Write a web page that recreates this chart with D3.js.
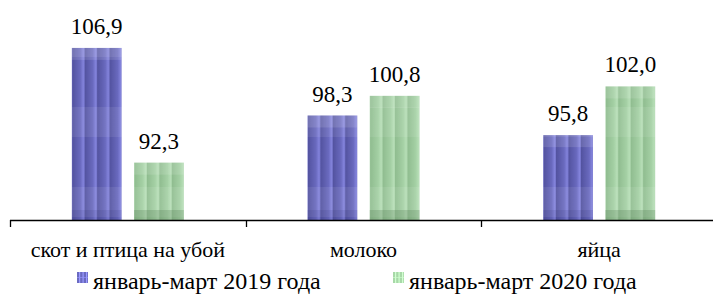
<!DOCTYPE html>
<html><head><meta charset="utf-8">
<script src="https://cdn.jsdelivr.net/npm/d3@7"></script>
<style>html,body{margin:0;padding:0;background:#fff;}svg{display:block;}</style>
</head><body><svg id="c" width="713" height="295"></svg>
<script>
const categories = ["скот и птица на убой", "молоко", "яйца"];
const seriesNames = ["январь-март 2019 года", "январь-март 2020 года"];
const values2019 = [106.9, 98.3, 95.8];
const values2020 = [92.3, 100.8, 102.0];
const valueLabels2019 = ["106,9", "98,3", "95,8"];
const valueLabels2020 = ["92,3", "100,8", "102,0"];

const svg = d3.select("#c");
const font = "Liberation Serif, Times New Roman, serif";
const baseY = 220;
const x0 = d3.scaleBand().domain(categories).range([10, 717]).padding(0);
const bw = x0.bandwidth();
const x1 = d3.scaleBand().domain(seriesNames).range([bw/2 - 56, bw/2 + 56]).paddingInner(0.2);
const y = d3.scaleLinear().domain([85, 113]).range([baseY, 0]);

const defs = svg.append("defs");
function makePattern(id, c0, c1, c2, band) {
  const g = defs.append("linearGradient").attr("id", id + "g").attr("x1", 0).attr("x2", 1).attr("y1", 0).attr("y2", 0);
  g.append("stop").attr("offset", 0).attr("stop-color", c0);
  g.append("stop").attr("offset", 0.65).attr("stop-color", c1);
  g.append("stop").attr("offset", 0.92).attr("stop-color", c2);
  g.append("stop").attr("offset", 1).attr("stop-color", c1);
  const p = defs.append("pattern").attr("id", id).attr("patternUnits", "userSpaceOnUse")
    .attr("width", 12.45).attr("height", 80).attr("y", 27);
  p.append("rect").attr("width", 12.45).attr("height", 80).attr("fill", `url(#${id}g)`);
  p.append("rect").attr("y", 0).attr("width", 12.45).attr("height", 80).attr("fill", band).attr("opacity", 0.2);
  p.append("rect").attr("y", 0).attr("width", 12.45).attr("height", 30).attr("fill", "#fff").attr("opacity", 0.08);
}
makePattern("pb", "#5f5fae", "#7c7cd6", "#a0a0ff", "#202060");
makePattern("pg", "#a2d3a2", "#bdecbd", "#d6ffd6", "#406040");

const fills = ["url(#pb)", "url(#pg)"];
const data = categories.map((c, i) => ({cat: c, vals: [
  {s: seriesNames[0], v: values2019[i], l: valueLabels2019[i], k: 0},
  {s: seriesNames[1], v: values2020[i], l: valueLabels2020[i], k: 1}]}));

const groups = svg.selectAll("g.grp").data(data).enter().append("g")
  .attr("transform", d => `translate(${x0(d.cat)},0)`);
groups.selectAll("rect.bar").data(d => d.vals).enter().append("rect").attr("class", "bar")
  .attr("x", d => x1(d.s)).attr("width", x1.bandwidth())
  .attr("y", d => y(d.v)).attr("height", d => baseY - y(d.v))
  .attr("fill", d => fills[d.k]);
// lighter top cap region of each bar
groups.selectAll("rect.top").data(d => d.vals).enter().append("rect").attr("class", "top")
  .attr("x", d => x1(d.s)).attr("width", x1.bandwidth())
  .attr("y", d => y(d.v)).attr("height", d => Math.min(baseY - y(d.v), 12))
  .attr("fill", "#fff").attr("opacity", 0.12);
// darker bottom band of each bar
groups.selectAll("rect.bot").data(d => d.vals).enter().append("rect").attr("class", "bot")
  .attr("x", d => x1(d.s)).attr("width", x1.bandwidth())
  .attr("y", baseY - 10).attr("height", 10)
  .attr("fill", d => d.k ? "#507850" : "#202060").attr("opacity", d => d.k ? 0.25 : 0.1);
groups.selectAll("text").data(d => d.vals).enter().append("text")
  .attr("x", d => x1(d.s) + x1.bandwidth()/2).attr("y", d => y(d.v) - 14)
  .attr("text-anchor", "middle").attr("font-family", font).attr("font-size", 23).attr("fill", "#000")
  .text(d => d.l);

// axis
const ax = svg.append("g").attr("transform", `translate(0,${baseY})`)
  .call(d3.axisBottom(x0).tickSize(0).tickPadding(0).tickFormat(""));
ax.select(".domain").remove();
ax.append("line").attr("x1", 10).attr("x2", 713).attr("y1", 0.5).attr("y2", 0.5).attr("stroke", "#000").attr("stroke-width", 1.3);
const tickXs = categories.map(c => x0(c)).concat([x0.range()[1]]);
ax.selectAll("line.tk").data(tickXs).enter().append("line").attr("class", "tk")
  .attr("x1", d => Math.round(d) + 0.5).attr("x2", d => Math.round(d) + 0.5).attr("y1", 0).attr("y2", 7)
  .attr("stroke", "#000").attr("stroke-width", 1.3);
ax.selectAll("text.cl").data(categories).enter().append("text").attr("class", "cl")
  .attr("x", d => x0(d) + bw/2).attr("y", 37).attr("text-anchor", "middle")
  .attr("font-family", font).attr("font-size", 22).attr("fill", "#000").text(d => d);

// legend
const legX = [77, 393];
const leg = svg.selectAll("g.leg").data(seriesNames).enter().append("g")
  .attr("transform", (d, i) => `translate(${legX[i]},272)`);
const lc = [["#6a6ac0", "#9a9aff"], ["#a8d8a8", "#d0ffd0"]];
leg.each(function(d, i) {
  const g = d3.select(this);
  g.append("rect").attr("width", 11).attr("height", 11).attr("fill", lc[i][0]);
  for (let k = 0; k < 3; k++) g.append("rect").attr("x", 2 + k*3.5).attr("width", 1.2).attr("height", 11).attr("fill", lc[i][1]);
  g.append("rect").attr("y", 5).attr("width", 11).attr("height", 1).attr("fill", lc[i][1]).attr("opacity", 0.6);
  g.append("text").attr("x", 16).attr("y", 16.5).attr("font-family", font).attr("font-size", 24).attr("fill", "#000").text(d);
});
</script></body></html>
